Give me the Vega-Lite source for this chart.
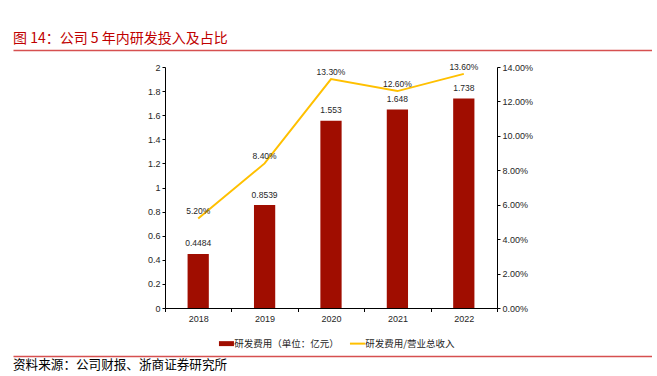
{
  "$schema": "https://vega.github.io/schema/vega-lite/v6.json",
  "padding": 0,
  "background": "white",
  "spacing": 12,
  "config": {"view": {"stroke": null}, "font": "Liberation Sans"},
  "datasets": {
    "rd": [
      {"year": "2018", "exp": 0.4484, "ratio": 0.052},
      {"year": "2019", "exp": 0.8539, "ratio": 0.084},
      {"year": "2020", "exp": 1.553, "ratio": 0.133},
      {"year": "2021", "exp": 1.648, "ratio": 0.126},
      {"year": "2022", "exp": 1.738, "ratio": 0.136}
    ],
    "head": [{"t": "图 14：公司 5 年内研发投入及占比"}],
    "foot": [{"t": "资料来源：公司财报、浙商证券研究所"}],
    "blank": [{"t": ""}]
  },
  "vconcat": [
    {
      "width": 639,
      "height": 50,
      "data": {"name": "head"},
      "mark": {"type": "text", "align": "left", "baseline": "bottom", "dy": -4, "font": "Noto Sans CJK SC", "fontSize": 14, "color": "#c00000"},
      "encoding": {
        "x": {"datum": 0, "type": "quantitative", "scale": {"domain": [0, 1]}, "axis": {"orient": "bottom", "domain": true, "domainColor": "#d65050", "domainWidth": 1.5, "ticks": false, "labels": false, "grid": false, "title": null, "minExtent": 0}},
        "y": {"datum": 0, "type": "quantitative", "scale": {"domain": [0, 1]}, "axis": {"orient": "left", "domain": false, "ticks": false, "labels": false, "grid": false, "title": null, "minExtent": 13}},
        "text": {"field": "t"}
      }
    },
    {
      "spacing": 0,
      "hconcat": [
        {
          "width": 100,
          "height": 277,
          "data": {"name": "blank"},
          "mark": {"type": "text"},
          "encoding": {"text": {"field": "t"}}
        },
        {
          "width": 332,
          "height": 241,
          "data": {"name": "rd"},
          "encoding": {
            "x": {
              "field": "year", "type": "ordinal",
              "scale": {"paddingInner": 0, "paddingOuter": 0},
              "axis": {"title": null, "labelAngle": 0, "domainColor": "#000", "tickColor": "#000", "tickSize": 3.5, "tickBand": "extent", "labelPadding": 3, "labelFontSize": 9, "labelColor": "#262626"}
            }
          },
          "layer": [
            {
              "encoding": {
                "y": {"field": "exp", "type": "quantitative", "scale": {"domain": [0, 2], "nice": false},
                  "axis": {"orient": "left", "values": [0, 0.2, 0.4, 0.6, 0.8, 1, 1.2, 1.4, 1.6, 1.8, 2], "format": ".1~f", "grid": false, "title": null, "domainColor": "#000", "tickColor": "#000", "tickSize": 3, "labelPadding": 2, "labelFontSize": 9, "labelColor": "#262626", "minExtent": 52}}
              },
              "layer": [
                {
                  "mark": {"type": "bar", "width": {"band": 0.32}},
                  "encoding": {
                    "color": {"datum": "研发费用（单位：亿元）", "type": "nominal",
                      "scale": {"domain": ["研发费用（单位：亿元）", "研发费用/营业总收入"], "range": ["#a00d00", "#ffc000"]},
                      "legend": {
                        "orient": "none", "legendX": 208.7, "legendY": 338.5, "direction": "horizontal", "title": null,
                        "labelFont": "Noto Sans CJK SC", "labelFontSize": 9.5, "labelColor": "#262626",
                        "symbolSize": 225, "labelOffset": 3, "columnPadding": 6, "padding": 0,
                        "encode": {
                          "symbols": {
                            "update": {
                              "shape": {"signal": "datum.value === '研发费用/营业总收入' ? 'M-1,0H1' : 'M-1,-0.33H1V0.33H-1Z'"},
                              "fill": {"signal": "datum.value === '研发费用/营业总收入' ? 'transparent' : '#a00d00'"},
                              "stroke": {"signal": "datum.value === '研发费用/营业总收入' ? '#ffc000' : '#a00d00'"},
                              "strokeWidth": {"signal": "datum.value === '研发费用/营业总收入' ? 2 : 0"},
                              "opacity": {"value": 1}
                            }
                          }
                        }
                      }
                    }
                  }
                },
                {
                  "mark": {"type": "text", "baseline": "middle", "dy": -10.5, "fontSize": 8.5, "color": "#262626"},
                  "encoding": {"text": {"field": "exp", "type": "quantitative", "format": "~g"}}
                }
              ]
            },
            {
              "encoding": {
                "y": {"field": "ratio", "type": "quantitative", "scale": {"domain": [0, 0.14], "nice": false},
                  "axis": {"orient": "right", "values": [0, 0.02, 0.04, 0.06, 0.08, 0.1, 0.12, 0.14], "format": ".2%", "grid": false, "title": null, "domainColor": "#000", "tickColor": "#000", "tickSize": 3, "labelPadding": 2, "labelFontSize": 9, "labelColor": "#262626"}}
              },
              "layer": [
                {
                  "mark": {"type": "line", "strokeWidth": 2},
                  "encoding": {
                    "color": {"datum": "研发费用/营业总收入", "type": "nominal"}
                  }
                },
                {
                  "mark": {"type": "text", "baseline": "middle", "dy": -7, "fontSize": 8.5, "color": "#262626"},
                  "encoding": {"text": {"field": "ratio", "type": "quantitative", "format": ".2%"}}
                }
              ]
            }
          ],
          "resolve": {"scale": {"y": "independent"}}
        }
      ]
    },
    {
      "width": 639,
      "height": 19,
      "data": {"name": "foot"},
      "mark": {"type": "text", "align": "left", "baseline": "bottom", "dy": -3, "font": "Noto Sans CJK SC", "fontSize": 12.6, "color": "#000"},
      "encoding": {
        "x": {"datum": 0, "type": "quantitative", "scale": {"domain": [0, 1]}, "axis": {"orient": "top", "domain": true, "domainColor": "#d65050", "domainWidth": 1.5, "ticks": false, "labels": false, "grid": false, "title": null, "minExtent": 0}},
        "y": {"datum": 0, "type": "quantitative", "scale": {"domain": [0, 1]}, "axis": {"orient": "left", "domain": false, "ticks": false, "labels": false, "grid": false, "title": null, "minExtent": 13}},
        "text": {"field": "t"}
      }
    }
  ]
}
